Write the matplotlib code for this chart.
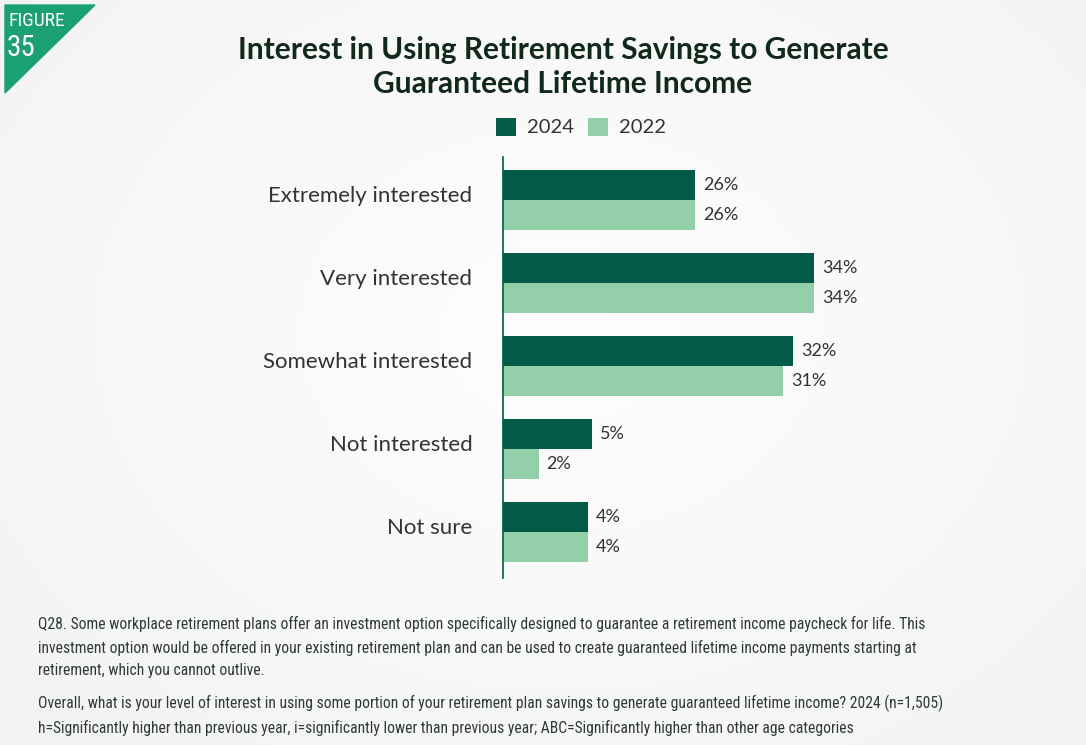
import numpy as np
import matplotlib.pyplot as plt
from matplotlib import font_manager
from matplotlib.patches import Polygon
from matplotlib.transforms import ScaledTranslation

categories = ['Extremely interested', 'Very interested', 'Somewhat interested',
              'Not interested', 'Not sure']
pct_2024 = [26, 34, 32, 5, 4]
pct_2022 = [26, 34, 31, 2, 4]
# bar lengths as drawn in the original (not to scale with the labels), in % units
len_2024 = [21.0, 34.0, 31.7, 9.7, 9.3]
len_2022 = [21.0, 34.0, 30.6, 3.9, 9.3]
series_names = ['2024', '2022']

title = 'Interest in Using Retirement Savings to Generate\nGuaranteed Lifetime Income'
notes = [
    'Q28. Some workplace retirement plans offer an investment option specifically designed to guarantee a retirement income paycheck for life. This\n'
    'investment option would be offered in your existing retirement plan and can be used to create guaranteed lifetime income payments starting at\n'
    'retirement, which you cannot outlive.',
    'Overall, what is your level of interest in using some portion of your retirement plan savings to generate guaranteed lifetime income? 2024 (n=1,505)\n'
    'h=Significantly higher than previous year, i=significantly lower than previous year; ABC=Significantly higher than other age categories',
]

dark = '#035a47'
light = '#93d0aa'
badge = '#1aa072'
txt = '#333333'

names = {f.name for f in font_manager.fontManager.ttflist}
narrow = 'DejaVu Sans'
for cand in ['Roboto Condensed', 'Open Sans Condensed', 'Liberation Sans Narrow']:
    if cand in names:
        narrow = cand
        break
plt.rcParams['font.family'] = ['Lato', 'DejaVu Sans']

W, H = 1086, 745
fig = plt.figure(figsize=(W / 100, H / 100), dpi=100)

# background with a soft radial glow
bg = fig.add_axes([0, 0, 1, 1], zorder=-10)
yy, xx = np.mgrid[0:H, 0:W]
r = np.sqrt(((xx - 560) / 620.0) ** 2 + ((yy - 330) / 480.0) ** 2)
shade = 0.995 - 0.035 * np.clip(r, 0, 1.3)
bg.imshow(np.dstack([shade, shade, shade]), extent=[0, W, H, 0], aspect='auto')
bg.set_xlim(0, W)
bg.set_ylim(H, 0)
bg.axis('off')
bg.add_patch(Polygon([[5, 5], [95, 5], [5, 93]], closed=True, color=badge))
bg.text(8, 21, 'FIGURE', color='white', fontsize=14, va='center', ha='left',
        family=narrow, fontstretch='condensed')
bg.text(7, 48, '35', color='white', fontsize=21, va='center', ha='left',
        family=narrow, fontstretch='condensed')

ax = fig.add_axes([503 / W, 1 - 578 / H, (1052 - 503) / W, (578 - 157) / H])
ax.set_facecolor('none')
y = np.arange(len(categories))
h = 0.36
ax.barh(y - h / 2, len_2024, height=h, color=dark, label=series_names[0])
ax.barh(y + h / 2, len_2022, height=h, color=light, label=series_names[1])
for i in range(len(categories)):
    ax.annotate(f'{pct_2024[i]}%', (len_2024[i], y[i] - h / 2), xytext=(8, 0),
                textcoords='offset pixels', va='center', ha='left', fontsize=13, color=txt)
    ax.annotate(f'{pct_2022[i]}%', (len_2022[i], y[i] + h / 2), xytext=(8, 0),
                textcoords='offset pixels', va='center', ha='left', fontsize=13, color=txt)
ax.set_xlim(0, 60)
ax.set_ylim(4.55, -0.52)
ax.set_yticks(y)
ax.set_yticklabels(categories, fontsize=16, color=txt)
ax.tick_params(axis='y', length=0, pad=22)
for lab in ax.get_yticklabels():
    lab.set_transform(lab.get_transform() + ScaledTranslation(0, 0.06, fig.dpi_scale_trans))
ax.set_xticks([])
for s in ['top', 'right', 'bottom']:
    ax.spines[s].set_visible(False)
ax.spines['left'].set_color(dark)
ax.spines['left'].set_linewidth(1.2)

leg = fig.legend(loc='center', bbox_to_anchor=(581 / W, 1 - 127 / H), ncol=2, frameon=False,
                 fontsize=14.5, handlelength=1.0, handleheight=1.0, handletextpad=0.55,
                 columnspacing=0.7)
for t in leg.get_texts():
    t.set_color(txt)

fig.text(563 / W, 1 - 67 / H, title, ha='center', va='center', fontsize=21.5,
         fontweight='bold', color='#10291b', linespacing=1.3)

n1 = fig.text(38 / W, 1 - 647 / H, notes[0], ha='left', va='center', fontsize=10,
              color='#2d3b34', family=narrow, fontstretch='condensed')
n2 = fig.text(38 / W, 1 - 715.5 / H, notes[1], ha='left', va='center', fontsize=10,
              color='#2d3b34', family=narrow, fontstretch='condensed')
# fit footnotes to the reference width and line pitch
rend = fig.canvas.get_renderer()
wpx = n2.get_window_extent(rend).width
fs = 10 * 900 / wpx
for n in (n1, n2):
    n.set_fontsize(fs)
    n.set_linespacing(25.5 / (fs * 100 / 72))

fig.savefig('out.png', dpi=100)
